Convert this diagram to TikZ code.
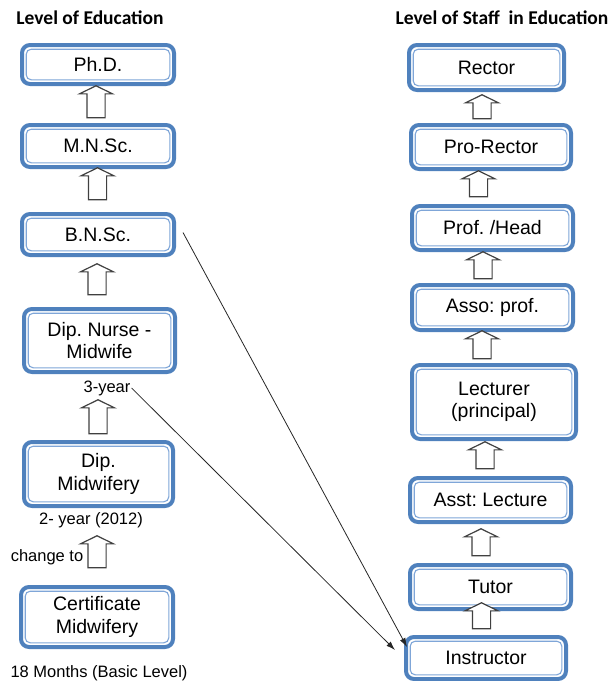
\documentclass[tikz,border=0pt]{standalone}
\usepackage{fontspec}
\setmainfont{Liberation Sans}
\newfontfamily\headfont{Carlito}
\usetikzlibrary{shapes.arrows,arrows.meta}
\definecolor{boxblue}{HTML}{4F81BD}
\definecolor{innerblue}{HTML}{7FA6D8}
\frenchspacing
\tikzset{
  levelbox/.style={draw=boxblue, line width=4pt, rounded corners=8pt, fill=white,
    align=center, inner sep=0pt, minimum width=152, minimum height=42,
    font=\fontsize{19.5}{22.5}\selectfont,
    path picture={\draw[innerblue, line width=1.1pt, rounded corners=5pt]
      ([shift={(4.2pt,4.2pt)}]path picture bounding box.south west) rectangle
      ([shift={(-4.2pt,-4.2pt)}]path picture bounding box.north east);}},
  staffbox/.style={levelbox, minimum width=161},
  uparrow/.style={single arrow, draw=black!75, line width=1.2pt, fill=white, rotate=90,
    inner sep=0pt, single arrow head extend=7.5pt, single arrow tip angle=128},
  lbl/.style={font=\fontsize{16.5}{19}\selectfont, inner sep=1pt},
  head/.style={font=\headfont\bfseries\fontsize{19.5}{22}\selectfont, inner sep=0pt},
  link/.style={-{Latex[length=9pt,width=6pt]}, line width=0.8pt, black!85}
}
\newcommand{\shaft}{\rule{0pt}{17pt}}
\begin{document}
\begin{tikzpicture}[x=1pt, y=-1pt]
    \useasboundingbox (0,0) rectangle (611,681);
    % headings
    \node[head] (lefthead) at (90,18) {Level of Education};
    \node[head] (righthead) at (502,18) {Level of Staff\ \ in Education};
    % level of education
    \node[levelbox, minimum height=39] (phd) at (98,64.5) {Ph.D.};
    \node[levelbox] (mnsc) at (98,146) {M.N.Sc.};
    \node[levelbox, minimum height=41] (bnsc) at (98,234.5) {B.N.Sc.};
    \node[levelbox, minimum width=151, minimum height=63] (dipnm) at (99.5,340.5) {Dip. Nurse -\\Midwife};
    \node[levelbox, minimum width=149, minimum height=64] (dipmw) at (98.5,474) {Dip.\\Midwifery};
    \node[levelbox, minimum height=60] (cert) at (97,617) {Certificate\\Midwifery};
    \node[lbl] (yr3) at (107,388) {3-year};
    \node[lbl] (yr2) at (91,520) {2- year (2012)};
    \node[lbl] (chg) at (47,557) {change to};
    \node[lbl] (basic) at (99,673) {18 Months (Basic Level)};
    % level of staff
    \node[staffbox, minimum width=155, minimum height=45] (rector) at (486.5,67.5) {Rector};
    \node[staffbox, minimum width=160, minimum height=44] (prorector) at (491,147) {Pro-Rector};
    \node[staffbox, minimum height=44] (profhead) at (492.5,228) {Prof. /Head};
    \node[staffbox, minimum height=45] (asso) at (492.5,307.5) {Asso: prof.};
    \node[staffbox, minimum width=164, minimum height=74] (lecturer) at (494,402) {Lecturer\\(principal)};
    \node[staffbox, minimum height=44] (asst) at (490.5,500) {Asst: Lecture};
    \node[staffbox, minimum height=44] (tutor) at (490.5,587) {Tutor};
    \node[staffbox, minimum width=160] (instructor) at (486,658) {Instructor};
    % block arrows, left
    \node[uparrow, minimum height=32] (a1) at (96,104) {\shaft};
    \node[uparrow, minimum height=32] (a2) at (97.5,186) {\shaft};
    \node[uparrow, minimum height=31] (a3) at (97,281.5) {\shaft};
    \node[uparrow, minimum height=34] (a4) at (98,419) {\shaft};
    \node[uparrow, minimum height=32] (a5) at (97,554) {\shaft};
    % block arrows, right
    \node[uparrow, minimum height=24] (b1) at (482,109) {\shaft};
    \node[uparrow, minimum height=26] (b2) at (478.5,186) {\shaft};
    \node[uparrow, minimum height=27] (b3) at (483,267.5) {\shaft};
    \node[uparrow, minimum height=28] (b4) at (482,347) {\shaft};
    \node[uparrow, minimum height=27] (b5) at (485,457.5) {\shaft};
    \node[uparrow, minimum height=27] (b6) at (481,544.5) {\shaft};
    \node[uparrow, minimum height=26] (b7) at (481.5,618) {\shaft};
    % links to instructor
    \draw[link] ([shift={(7pt,2pt)}]bnsc.east) -- ([shift={(3pt,11pt)}]instructor.west);
    \draw[link] (yr3.east) -- ([shift={(-9pt,8pt)}]instructor.west);
\end{tikzpicture}
\end{document}
